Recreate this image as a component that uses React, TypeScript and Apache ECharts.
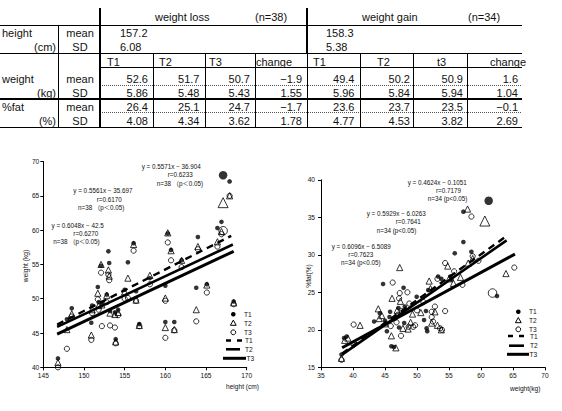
import { useEffect, useRef } from 'react';
import * as echarts from 'echarts';

const FONT = '"Liberation Sans", Arial, "Noto Sans CJK JP", sans-serif';

// ---------- summary table ----------
const groupTitles = ['weight loss', 'weight gain'];
const groupN = ['(n=38)', '(n=34)'];
const heightMean = ['157.2', '158.3'];
const heightSD = ['6.08', '5.38'];
const colHeads = ['T1', 'T2', 'T3', 'change', 'T1', 'T2', 't3', 'change'];
const weightMean = [52.6, 51.7, 50.7, -1.9, 49.4, 50.2, 50.9, 1.6];
const weightSD = [5.86, 5.48, 5.43, 1.55, 5.96, 5.84, 5.94, 1.04];
const fatMean = [26.4, 25.1, 24.7, -1.7, 23.6, 23.7, 23.5, -0.1];
const fatSD = [4.08, 4.34, 3.62, 1.78, 4.77, 4.53, 3.82, 2.69];

// ---------- weight loss group: height vs weight ----------
const heightCm = [146.8, 147.9, 148.5, 150.9, 151.0, 151.7, 151.8, 152.1, 152.2, 152.8, 153.0, 153.1, 153.2, 153.8, 153.9, 154.2, 155.0, 155.4, 156.1, 156.4, 156.8, 158.1, 160.0, 160.0, 160.3, 160.7, 161.1, 162.0, 163.8, 164.0, 165.1, 166.4, 166.9, 167.9, 168.4];
const lossT1 = [41.3, 47.0, 48.6, 46.5, 49.0, 51.7, 49.5, 54.8, 49.4, 50.6, 56.9, 55.2, 48.2, 48.0, 44.1, 48.4, 51.3, 55.3, 58.1, 51.1, 46.3, 53.0, 51.9, 46.6, 59.5, 57.1, 46.6, 55.6, 51.6, 59.0, 52.1, 60.3, 61.2, 67.1, 49.6];
const lossT2 = [40.7, 45.5, 47.8, 44.7, 48.4, 50.8, 49.0, 55.0, 49.1, 50.5, 54.2, 53.3, 47.9, 47.7, 43.7, 48.0, 51.0, 53.0, 57.9, 49.8, 46.1, 53.4, 50.1, 45.8, 59.6, 57.0, 45.5, 55.6, 48.4, 57.6, 52.0, 58.3, 59.8, 65.0, 49.4];
const lossT3 = [40.0, 42.7, 47.4, 44.0, 47.9, 49.9, 48.4, 53.8, 46.0, 49.5, 53.5, 52.7, 46.1, 45.8, 43.5, 47.6, 50.0, 50.1, 57.0, 49.7, 46.0, 52.1, 49.7, 44.3, 58.2, 55.6, 45.4, 54.6, 46.7, 57.2, 50.9, 57.6, 59.4, 65.0, 49.2];
// subject drawn with enlarged markers
const lossMarkedHeight = 167.1;
const lossMarked = [68.0, 64.0, 59.9];

const lossSlope = [0.6048, 0.5561, 0.5571];
const lossIntercept = [-42.5, -35.697, -36.904];
const lossR = ['0.6270', '0.6170', '0.6233'];
const lossFitFrom = [146.7, 146.7, 146.7];
const lossFitTo = [168.1, 168.3, 168.4];

// ---------- weight gain group: weight vs %fat ----------
const gainT1 = [[38.2, 16.7], [38.6, 18.9], [39.0, 19.1], [43.3, 21.1], [44.2, 22.2], [44.7, 26.1], [45.0, 21.2], [45.3, 19.8], [45.7, 21.7], [45.8, 22.4], [46.0, 17.8], [46.4, 17.7], [47.1, 22.9], [47.9, 25.6], [48.1, 23.1], [47.2, 20.3], [48.0, 20.9], [49.95, 24.4], [51.1, 21.3], [51.4, 22.5], [51.5, 20.2], [51.6, 19.8], [51.75, 25.3], [53.3, 27.1], [53.8, 26.8], [55.2, 27.1], [55.4, 26.7], [55.9, 30.2], [57.25, 35.75], [57.25, 31.7], [58.5, 30.4], [62.5, 24.5], [46.6, 21.5]];
const gainT2 = [[38.2, 16.2], [39.2, 18.9], [41.1, 20.6], [43.95, 22.8], [44.1, 21.5], [45.0, 20.8], [46.0, 19.2], [46.1, 24.2], [46.7, 17.6], [46.9, 22.6], [47.3, 28.3], [47.4, 23.8], [47.8, 20.2], [48.6, 20.1], [49.3, 22.1], [50.6, 22.3], [51.9, 26.5], [52.1, 25.5], [52.3, 20.9], [52.8, 22.4], [53.2, 20.6], [53.8, 20.0], [54.8, 28.5], [55.0, 26.8], [55.7, 26.2], [56.8, 27.0], [57.9, 36.1], [58.0, 28.9], [58.7, 29.5], [63.9, 27.5], [44.5, 21.9], [49.0, 21.0], [38.7, 18.6]];
const gainT3 = [[38.2, 16.0], [40.1, 20.7], [40.1, 18.0], [45.9, 20.5], [46.2, 26.3], [46.8, 21.0], [47.0, 22.0], [47.2, 24.2], [47.3, 24.9], [47.5, 19.2], [47.6, 22.5], [48.5, 25.0], [48.7, 20.4], [48.8, 23.5], [49.4, 20.4], [49.7, 20.6], [50.0, 22.6], [51.0, 23.7], [52.3, 22.4], [52.3, 21.7], [52.5, 21.1], [52.8, 23.1], [53.6, 20.2], [53.9, 20.0], [54.4, 22.5], [54.4, 28.9], [55.8, 27.8], [57.1, 26.0], [58.5, 35.1], [58.7, 29.8], [59.6, 29.2], [65.2, 28.3], [53.2, 26.8]];
const gainMarked = [[61.2, 37.2], [60.6, 34.5], [61.8, 24.9]];

const gainSlope = [0.6096, 0.5929, 0.4624];
const gainIntercept = [-6.5089, -6.0263, -0.1051];
const gainR = ['0.7623', '0.7641', '0.7179'];
const gainFitFrom = [38.3, 38.3, 38.3];
const gainFitTo = [63.7, 64.0, 65.3];

const legendNames = ['T1', 'T2', 'T3'];

// ---------- helpers ----------
const fmt = (v: number, d: number) => v.toFixed(d).replace('-', '−');

function txt(text: string, x: number, y: number, size: number, align = 'left', extra: any = {}) {
  return {
    type: 'text',
    x,
    y,
    silent: true,
    ...extra,
    style: {
      text,
      fill: '#111',
      font: `${size}px ${FONT}`,
      textAlign: align,
      textVerticalAlign: 'middle',
      verticalAlign: 'middle',
    },
  };
}

function hline(x1: number, x2: number, y: number, w = 1, dash?: number[]) {
  return {
    type: 'line',
    silent: true,
    shape: { x1, y1: y, x2, y2: y },
    style: { stroke: dash ? '#555' : '#000', lineWidth: w, lineDash: dash },
  };
}
function vline(x: number, y1: number, y2: number, w = 1) {
  return {
    type: 'line',
    silent: true,
    shape: { x1: x, y1, x2: x, y2 },
    style: { stroke: '#000', lineWidth: w },
  };
}

function buildTable() {
  const g: any[] = [];
  const colEdges = [100, 153, 205, 255, 307, 360, 413, 467, 522];
  const headX = [107, 159, 209, 256, 313, 377, 437, 490];
  const numRight = [148, 199.5, 250, 302, 354.5, 410, 463, 518];
  const right = 522;
  // rules
  g.push(hline(0, right, 25.5));
  g.push(hline(0, right, 53.5));
  g.push(hline(100, right, 67.5));
  g.push(hline(100, right, 85.5, 1, [1, 1]));
  g.push(hline(0, right, 99, 2));
  g.push(hline(100, right, 112.5, 1, [1, 1]));
  g.push(hline(0, right, 127.5));
  g.push(vline(58.5, 25, 128));
  g.push(vline(100, 8, 128, 2));
  g.push(vline(307, 8, 53.5, 2));
  colEdges.slice(1, -1).forEach((x) => g.push(vline(x + 0.5, 53.5, 128)));
  // header
  g.push(txt(groupTitles[0], 155, 17, 11));
  g.push(txt(groupN[0], 255, 17, 11));
  g.push(txt(groupTitles[1], 362, 17, 11));
  g.push(txt(groupN[1], 468, 17, 11));
  // row labels
  g.push(txt('height', 2, 33, 11));
  g.push(txt('(cm)', 56, 46.7, 11, 'right'));
  g.push(txt('weight', 2, 79.3, 11));
  g.push(txt('(kg)', 56, 92.7, 11, 'right'));
  g.push(txt('%fat', 2, 106.7, 11));
  g.push(txt('(%)', 56, 120.7, 11, 'right'));
  [33, 79.3, 106.7].forEach((y) => g.push(txt('mean', 80, y, 11, 'center')));
  [46.7, 92.7, 120.7].forEach((y) => g.push(txt('SD', 80, y, 11, 'center')));
  // height
  g.push(txt(heightMean[0], 120, 33, 11));
  g.push(txt(heightSD[0], 120, 46.7, 11));
  g.push(txt(heightMean[1], 326, 33, 11));
  g.push(txt(heightSD[1], 326, 46.7, 11));
  // column heads and values
  colHeads.forEach((h, i) => g.push(txt(h, headX[i], 61.5, 11)));
  weightMean.forEach((v, i) => g.push(txt(fmt(v, 1), numRight[i], 79.3, 11, 'right')));
  weightSD.forEach((v, i) => g.push(txt(fmt(v, 2), numRight[i], 92.7, 11, 'right')));
  fatMean.forEach((v, i) => g.push(txt(fmt(v, 1), numRight[i], 106.7, 11, 'right')));
  fatSD.forEach((v, i) => g.push(txt(fmt(v, 2), numRight[i], 120.7, 11, 'right')));
  return g;
}

function eqLines(slope: number, intercept: number, r: string, n: number, wide: boolean) {
  const sign = intercept < 0 ? '−' : '+';
  return [
    `y = ${slope}x ${sign} ${Math.abs(intercept)}`,
    `r=${r}`,
    wide ? `n=${n} （p＜0.05)` : `n=${n} (p<0.05)`,
  ];
}

function buildEquations() {
  const g: any[] = [];
  const fs = 6.3;
  // left chart blocks: T1, T2, T3
  const lossPos = [
    { y: [225.7, 233.5, 241.7], x: [51.5, 73.3, 53.3] },
    { y: [190.7, 199, 207.3], x: [73.3, 96.7, 78] },
    { y: [166, 174.3, 183.3], x: [141.7, 167.7, 156.7] },
  ];
  lossSlope.forEach((s, i) => {
    eqLines(s, lossIntercept[i], lossR[i], 38, true).forEach((t, k) =>
      g.push(txt(t, lossPos[i].x[k], lossPos[i].y[k], fs)),
    );
  });
  const gainPos = [
    { y: [246.7, 254.3, 262.7], x: [331.7, 348.3, 341] },
    { y: [213.3, 221.7, 230], x: [366.7, 395.7, 376.7] },
    { y: [182.3, 190, 198.3], x: [407.7, 436, 427.7] },
  ];
  gainSlope.forEach((s, i) => {
    eqLines(s, gainIntercept[i], gainR[i], 34, false).forEach((t, k) =>
      g.push(txt(t, gainPos[i].x[k], gainPos[i].y[k], fs)),
    );
  });
  return g;
}

function legendBlock(mx: number, ys: number[], lineX: number[][], labelX: number, lineLabelX: number[]) {
  const g: any[] = [];
  const fs = 6.6;
  g.push({ type: 'circle', silent: true, shape: { cx: mx, cy: ys[0], r: 2.3 }, style: { fill: '#000' } });
  g.push({
    type: 'polygon',
    silent: true,
    shape: { points: [[mx, ys[1] - 3.2], [mx - 2.9, ys[1] + 2], [mx + 2.9, ys[1] + 2]] },
    style: { fill: 'none', stroke: '#000', lineWidth: 1 },
  });
  g.push({ type: 'circle', silent: true, shape: { cx: mx, cy: ys[2], r: 2.4 }, style: { fill: 'none', stroke: '#000', lineWidth: 1 } });
  legendNames.forEach((n, i) => g.push(txt(n, labelX, ys[i], fs)));
  const widths = [2.5, 2.6, 3];
  legendNames.forEach((n, i) => {
    g.push({
      type: 'line',
      silent: true,
      shape: { x1: lineX[i][0], y1: ys[3 + i], x2: lineX[i][1], y2: ys[3 + i] },
      style: { stroke: '#000', lineWidth: widths[i], lineDash: i === 0 ? [5, 6] : undefined },
    });
    g.push(txt(n, lineLabelX[i], ys[3 + i], fs));
  });
  return g;
}

function axisTitles() {
  const fs = 6.6;
  return [
    txt('weight (kg)', 25, 266, fs, 'center', { rotation: Math.PI / 2 }),
    txt('height (cm)', 226, 386, fs),
    txt('%fat(%)', 308, 276, fs, 'center', { rotation: Math.PI / 2 }),
    txt('weight(kg)', 510, 388, fs),
  ];
}

function fitSeries(slopes: number[], icpts: number[], from: number[], to: number[], axis: number) {
  const styles = [
    { width: 2.4, type: [7, 5] as any },
    { width: 2.6, type: 'solid' as any },
    { width: 3, type: 'solid' as any },
  ];
  return slopes.map((s, i) => ({
    type: 'line',
    xAxisIndex: axis,
    yAxisIndex: axis,
    data: [
      [from[i], s * from[i] + icpts[i]],
      [to[i], s * to[i] + icpts[i]],
    ],
    symbol: 'none',
    silent: true,
    z: 2,
    lineStyle: { color: '#000', width: styles[i].width, type: styles[i].type, cap: 'butt' },
  }));
}

const markerStyles = [
  { symbol: 'circle', size: 4.6, big: 8.5, itemStyle: { color: '#000' } },
  { symbol: 'triangle', size: 6.2, big: 10, itemStyle: { color: 'rgba(0,0,0,0)', borderColor: '#000', borderWidth: 1 } },
  { symbol: 'circle', size: 5.2, big: 8.5, itemStyle: { color: 'rgba(0,0,0,0)', borderColor: '#000', borderWidth: 1 } },
];

function scatter(data: number[][], axis: number, k: number, big = false) {
  const m = markerStyles[k];
  return {
    type: 'scatter',
    xAxisIndex: axis,
    yAxisIndex: axis,
    data,
    symbol: m.symbol,
    symbolSize: big ? m.big : m.size,
    itemStyle: m.itemStyle,
    silent: true,
    z: 3,
  };
}

function valueAxis(grid: number, min: number, max: number, margin: number) {
  return {
    type: 'value',
    gridIndex: grid,
    min,
    max,
    interval: 5,
    axisLine: { show: true, onZero: false, lineStyle: { color: '#000', width: 1 } },
    axisTick: { show: true, length: 3, lineStyle: { color: '#000' } },
    axisLabel: { fontSize: 6.6, color: '#111', margin, fontFamily: FONT },
    splitLine: { show: false },
  };
}

export default function App() {
  const ref = useRef<HTMLDivElement>(null);
  useEffect(() => {
    document.body.style.margin = '0';
    const chart = echarts.init(ref.current!, null, { renderer: 'svg' });

    const lossSets = [lossT1, lossT2, lossT3].map((arr) => arr.map((w, i) => [heightCm[i], w]));
    const gainSets = [gainT1, gainT2, gainT3];

    const series: any[] = [
      ...fitSeries(lossSlope, lossIntercept, lossFitFrom, lossFitTo, 0),
      ...fitSeries(gainSlope, gainIntercept, gainFitFrom, gainFitTo, 1),
    ];
    [2, 1, 0].forEach((k) => {
      series.push(scatter(lossSets[k], 0, k));
      series.push(scatter([[lossMarkedHeight, lossMarked[k]]], 0, k, true));
      series.push(scatter(gainSets[k], 1, k));
      series.push(scatter([gainMarked[k]], 1, k, true));
    });

    chart.setOption({
      animation: false,
      backgroundColor: '#fff',
      textStyle: { fontFamily: FONT },
      grid: [
        { left: 43.3, top: 161.5, width: 203.4, height: 205.8 },
        { left: 321, top: 179.8, width: 224, height: 187.5 },
      ],
      xAxis: [valueAxis(0, 145, 170, 5), valueAxis(1, 35, 70, 5)],
      yAxis: [valueAxis(0, 40, 70, 4), valueAxis(1, 15, 40, 6)],
      series,
      graphic: [
        ...buildTable(),
        ...buildEquations(),
        ...legendBlock(233.3, [314.3, 323.3, 332.3, 340.5, 349.3, 358.3], [[226, 242], [226, 240], [223, 246]], 244, [245, 245, 246.5]),
        ...legendBlock(518.3, [311.7, 320.7, 329.3, 336, 345.7, 354.3], [[508, 527], [509, 524], [507, 529]], 529, [530, 530, 529.5]),
        ...axisTitles(),
      ],
    });
    return () => chart.dispose();
  }, []);
  return <div ref={ref} style={{ width: 562, height: 411 }} />;
}
